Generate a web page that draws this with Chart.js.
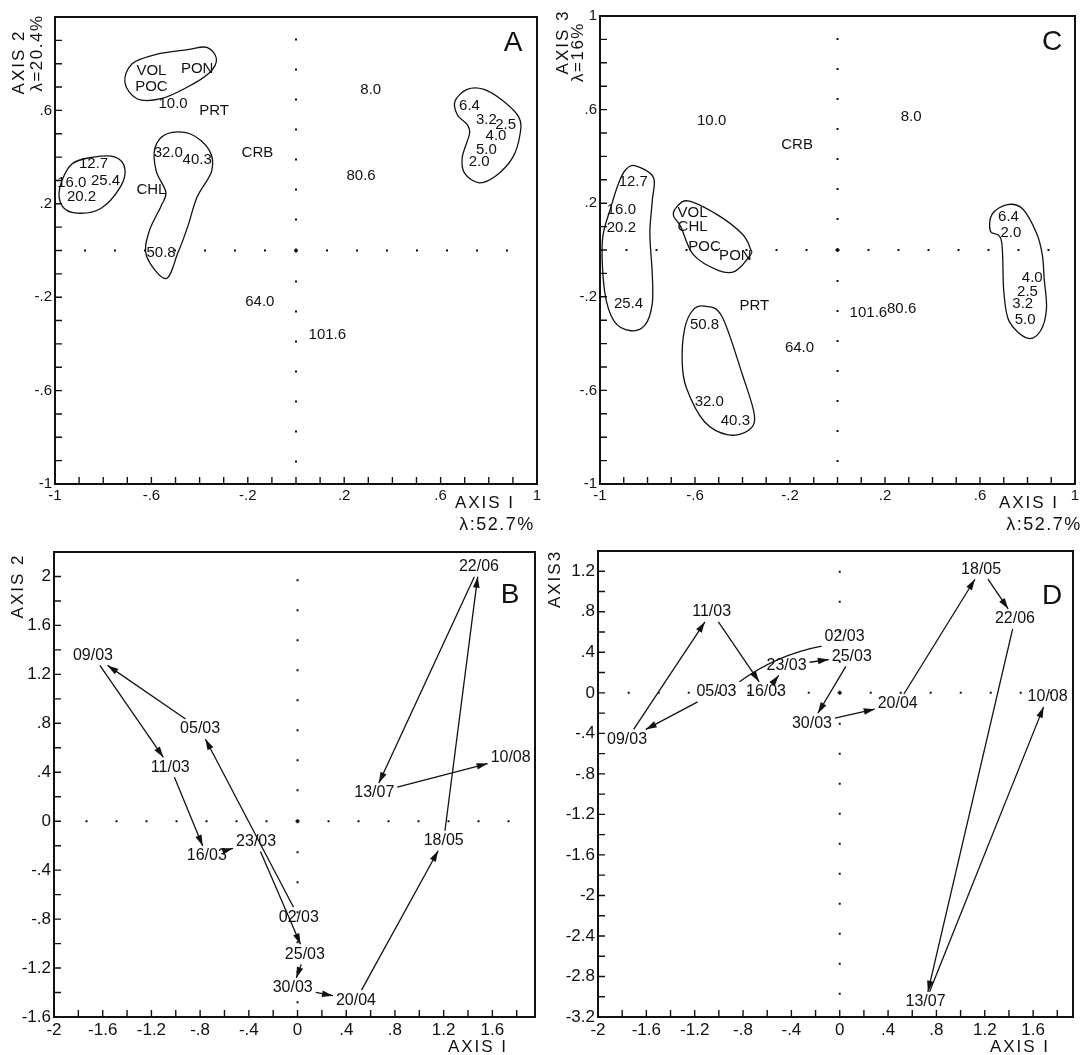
<!DOCTYPE html>
<html>
<head>
<meta charset="utf-8">
<script src="https://cdn.jsdelivr.net/npm/chart.js@4.4.0/dist/chart.umd.min.js"></script>
<style>
  html, body { margin: 0; padding: 0; background: #fff; }
  body { width: 1087px; height: 1055px; position: relative; overflow: hidden; }
  canvas { position: absolute; }
</style>
</head>
<body>
<canvas id="panelA"></canvas>
<canvas id="panelC"></canvas>
<canvas id="panelB"></canvas>
<canvas id="panelD"></canvas>
<script>
// ---- panel A : variables and size classes, axis 1 x axis 2
var aNames = ['VOL', 'POC', 'PON', '10.0', 'PRT', 'CRB', '32.0', '40.3', '12.7', '16.0', '25.4', '20.2',
              'CHL', '50.8', '8.0', '80.6', '6.4', '3.2', '2.5', '4.0', '5.0', '2.0', '64.0', '101.6'];
var aAxis1 = [-0.60, -0.60, -0.41, -0.51, -0.34, -0.16, -0.53, -0.41, -0.84, -0.93, -0.79, -0.89,
              -0.60, -0.56, 0.31, 0.27, 0.72, 0.79, 0.87, 0.83, 0.79, 0.76, -0.15, 0.13];
var aAxis2 = [0.77, 0.70, 0.78, 0.63, 0.60, 0.42, 0.42, 0.39, 0.37, 0.29, 0.30, 0.23,
              0.26, -0.01, 0.69, 0.32, 0.62, 0.56, 0.54, 0.49, 0.43, 0.38, -0.22, -0.36];
// hand drawn groupings in panel A
var aGroupPom = [[-0.71, 0.72], [-0.68, 0.80], [-0.58, 0.84], [-0.45, 0.86], [-0.37, 0.87], [-0.33, 0.82],
                 [-0.36, 0.76], [-0.45, 0.70], [-0.56, 0.65], [-0.66, 0.65]];
var aGroupMid = [[-0.98, 0.27], [-0.93, 0.37], [-0.84, 0.40], [-0.75, 0.40], [-0.71, 0.35], [-0.73, 0.27],
                 [-0.81, 0.18], [-0.91, 0.16], [-0.97, 0.19]];
var aGroupBig = [[-0.535, 0.50], [-0.44, 0.50], [-0.36, 0.43], [-0.35, 0.34], [-0.41, 0.23], [-0.45, 0.10],
                 [-0.49, -0.01], [-0.54, -0.12], [-0.62, -0.025], [-0.61, 0.08], [-0.56, 0.19], [-0.54, 0.25],
                 [-0.58, 0.34], [-0.585, 0.44]];
var aGroupSmall = [[0.66, 0.64], [0.71, 0.69], [0.78, 0.69], [0.86, 0.64], [0.925, 0.57], [0.93, 0.50],
                   [0.90, 0.40], [0.83, 0.32], [0.76, 0.29], [0.70, 0.33], [0.69, 0.40], [0.72, 0.50],
                   [0.71, 0.54], [0.67, 0.58]];

// ---- panel C : axis 1 x axis 3
var cNames = ['10.0', 'CRB', '12.7', '16.0', '20.2', 'VOL', 'CHL', 'POC', 'PON', '8.0', '6.4', '2.0',
              '4.0', '2.5', '3.2', '5.0', '25.4', 'PRT', '50.8', '101.6', '80.6', '64.0', '32.0', '40.3'];
var cAxis1 = [-0.53, -0.17, -0.86, -0.91, -0.91, -0.61, -0.61, -0.56, -0.43, 0.31, 0.72, 0.73,
              0.82, 0.80, 0.78, 0.79, -0.88, -0.35, -0.56, 0.13, 0.27, -0.16, -0.54, -0.43];
var cAxis3 = [0.55, 0.45, 0.29, 0.17, 0.095, 0.16, 0.10, 0.013, -0.026, 0.57, 0.14, 0.074,
              -0.12, -0.18, -0.23, -0.30, -0.23, -0.24, -0.32, -0.27, -0.25, -0.42, -0.65, -0.73];
var cGroupMid = [[-0.85, 0.36], [-0.775, 0.31], [-0.78, 0.21], [-0.79, 0.07], [-0.78, -0.10], [-0.78, -0.23],
                 [-0.81, -0.32], [-0.87, -0.345], [-0.94, -0.305], [-0.98, -0.18], [-0.99, 0.04],
                 [-0.955, 0.18], [-0.92, 0.29], [-0.89, 0.345]];
var cGroupPom = [[-0.68, 0.18], [-0.63, 0.21], [-0.505, 0.15], [-0.40, 0.067], [-0.366, 0.003], [-0.366, -0.02],
                 [-0.43, -0.09], [-0.50, -0.088], [-0.607, -0.02], [-0.66, 0.10], [-0.69, 0.145]];
var cGroupBig = [[-0.56, -0.24], [-0.487, -0.283], [-0.40, -0.534], [-0.35, -0.705], [-0.374, -0.77],
                 [-0.46, -0.79], [-0.56, -0.734], [-0.636, -0.59], [-0.654, -0.477], [-0.643, -0.334],
                 [-0.607, -0.255]];
var cGroupSmall = [[0.715, 0.194], [0.78, 0.175], [0.84, 0.067], [0.863, -0.026], [0.87, -0.12], [0.88, -0.25],
                   [0.855, -0.345], [0.80, -0.377], [0.723, -0.305], [0.70, -0.175], [0.69, 0.04],
                   [0.644, 0.08], [0.651, 0.153]];

// ---- panels B and D : sampling dates (in time order)
var dates = ['02/03', '05/03', '09/03', '11/03', '16/03', '23/03', '25/03', '30/03', '20/04', '18/05', '22/06', '13/07', '10/08'];
var bAxis1 = [0.01, -0.80, -1.68, -1.045, -0.745, -0.34, 0.06, -0.04, 0.48, 1.20, 1.49, 0.63, 1.75];
var bAxis2 = [-0.785, 0.754, 1.355, 0.44, -0.284, -0.166, -1.088, -1.363, -1.462, -0.16, 2.08, 0.23, 0.52];
var dAxis1 = [0.04, -1.02, -1.76, -1.06, -0.61, -0.44, 0.10, -0.23, 0.48, 1.17, 1.45, 0.71, 1.72];
var dAxis3 = [0.56, 0.01, -0.46, 0.80, 0.01, 0.27, 0.36, -0.30, -0.11, 1.22, 0.73, -3.05, -0.04];

// tick labels
var ticksAC = [-1, -0.6, -0.2, 0.2, 0.6, 1];
var ticksAy = [-1, -0.6, -0.2, 0.2, 0.6];
var ticksBx = [-2, -1.6, -1.2, -0.8, -0.4, 0, 0.4, 0.8, 1.2, 1.6];
var ticksBy = [-1.6, -1.2, -0.8, -0.4, 0, 0.4, 0.8, 1.2, 1.6, 2];
var ticksDy = [-3.2, -2.8, -2.4, -2, -1.6, -1.2, -0.8, -0.4, 0, 0.4, 0.8, 1.2];

var fam = '"Liberation Sans", Arial, sans-serif';
var ink = '#111';

function fmt(v) {
  var n = Math.round(v * 100) / 100;
  if (n === 0) return '0';
  var s = String(Math.abs(n));
  if (s.indexOf('0.') === 0) s = s.slice(1);
  return (n < 0 ? '-' : '') + s;
}
function pts(xs, ys) {
  return xs.map(function (x, i) { return { x: x, y: ys[i] }; });
}
function pairs(arr) {
  return arr.map(function (p) { return { x: p[0], y: p[1] }; });
}
function outline(g) {
  return { data: pairs(g), outline: true, pointRadius: 0 };
}

function minorTicks(scale, step) {
  var out = [];
  var k0 = Math.ceil(scale.min / step - 1e-6), k1 = Math.floor(scale.max / step + 1e-6);
  for (var k = k0; k <= k1; k++) {
    var v = k * step;
    if (Math.abs(v - scale.min) < 1e-6 || Math.abs(v - scale.max) < 1e-6) continue;
    out.push(scale.getPixelForValue(v));
  }
  return out;
}

function closedCurve(ctx, p) {
  var n = p.length;
  ctx.beginPath();
  ctx.moveTo(p[0].x, p[0].y);
  for (var i = 0; i < n; i++) {
    var p0 = p[(i - 1 + n) % n], p1 = p[i], p2 = p[(i + 1) % n], p3 = p[(i + 2) % n];
    ctx.bezierCurveTo(p1.x + (p2.x - p0.x) / 6, p1.y + (p2.y - p0.y) / 6,
                      p2.x - (p3.x - p1.x) / 6, p2.y - (p3.y - p1.y) / 6, p2.x, p2.y);
  }
  ctx.closePath();
  ctx.stroke();
}

function exitT(dx, dy, hw, hh) {
  var tx = dx !== 0 ? hw / Math.abs(dx) : Infinity;
  var ty = dy !== 0 ? hh / Math.abs(dy) : Infinity;
  return Math.min(tx, ty);
}

function arrowHead(ctx, e, dx, dy) {
  var l = Math.hypot(dx, dy), ux = dx / l, uy = dy / l;
  ctx.beginPath();
  ctx.moveTo(e.x, e.y);
  ctx.lineTo(e.x - ux * 11 - uy * 3.3, e.y - uy * 11 + ux * 3.3);
  ctx.lineTo(e.x - ux * 11 + uy * 3.3, e.y - uy * 11 - ux * 3.3);
  ctx.closePath();
  ctx.fill();
}

function drawArrows(ctx, p, ds) {
  ctx.font = ds.nameFont;
  var half = ds.names.map(function (n) { return ctx.measureText(n).width / 2 + 3; });
  ctx.lineWidth = 1.3;
  for (var i = 0; i < p.length - 1; i++) {
    var P = p[i], Q = p[i + 1];
    var dx = Q.x - P.x, dy = Q.y - P.y;
    var t0 = exitT(dx, dy, half[i], 10), t1 = 1 - exitT(dx, dy, half[i + 1], 10);
    if (t1 - t0 < 0.02) continue;
    var S = { x: P.x + dx * t0, y: P.y + dy * t0 }, E = { x: P.x + dx * t1, y: P.y + dy * t1 };
    var hx = dx, hy = dy;
    ctx.beginPath();
    ctx.moveTo(S.x, S.y);
    if (i === 0 && ds.firstBend) {
      var len = Math.hypot(E.x - S.x, E.y - S.y);
      var cx = (S.x + E.x) / 2 - (E.y - S.y) / len * ds.firstBend;
      var cy = (S.y + E.y) / 2 + (E.x - S.x) / len * ds.firstBend;
      ctx.quadraticCurveTo(cx, cy, E.x, E.y);
      hx = E.x - cx; hy = E.y - cy;
    } else {
      ctx.lineTo(E.x, E.y);
    }
    ctx.stroke();
    if (!(i === 0 && ds.firstNoHead)) arrowHead(ctx, E, hx, hy);
  }
}

function drawText(ctx, t) {
  ctx.save();
  ctx.translate(t.x, t.y);
  if (t.rot) ctx.rotate(t.rot);
  ctx.font = t.font;
  ctx.letterSpacing = t.sp || '0px';
  ctx.textAlign = t.align || 'center';
  ctx.textBaseline = 'middle';
  ctx.fillText(t.text, 0, 0);
  ctx.restore();
}

function makeDeco(cfg) {
  return {
    id: 'deco' + cfg.id,
    afterDatasetsDraw: function (chart) {
      var ctx = chart.ctx, a = chart.chartArea;
      var xs = chart.scales.x, ys = chart.scales.y;
      var x0 = xs.getPixelForValue(0), y0 = ys.getPixelForValue(0);
      ctx.save();
      ctx.strokeStyle = ink;
      ctx.fillStyle = ink;

      // dotted zero lines
      ctx.lineWidth = 2;
      ctx.setLineDash([2, 28]);
      [[x0, a.top + 4], [x0, a.bottom - 4], [a.left + 4, y0], [a.right - 4, y0]].forEach(function (e) {
        ctx.beginPath(); ctx.moveTo(x0, y0); ctx.lineTo(e[0], e[1]); ctx.stroke();
      });
      ctx.setLineDash([]);

      // frame and inward ticks
      ctx.lineWidth = 2;
      ctx.strokeRect(a.left, a.top, a.right - a.left, a.bottom - a.top);
      ctx.lineWidth = 1.4;
      ctx.beginPath();
      minorTicks(xs, cfg.xStep).forEach(function (px) { ctx.moveTo(px, a.bottom); ctx.lineTo(px, a.bottom - 7); });
      minorTicks(ys, cfg.yStep).forEach(function (py) { ctx.moveTo(a.left, py); ctx.lineTo(a.left + 7, py); });
      ctx.stroke();

      // outlines, labels, arrows
      chart.data.datasets.forEach(function (ds, i) {
        var p = chart.getDatasetMeta(i).data.map(function (e) { return { x: e.x, y: e.y }; });
        if (ds.outline) { ctx.lineWidth = 1.3; closedCurve(ctx, p); }
        if (ds.arrows) drawArrows(ctx, p, ds);
        if (ds.names) {
          ctx.font = ds.nameFont;
          ctx.textAlign = 'center';
          ctx.textBaseline = 'middle';
          p.forEach(function (q, j) { ctx.fillText(ds.names[j], q.x, q.y); });
        }
      });

      cfg.texts.forEach(function (t) { drawText(ctx, t); });
      ctx.restore();
    }
  };
}

function makePanel(cfg) {
  var cv = document.getElementById(cfg.id);
  var bx = cfg.box;
  cv.width = bx[2]; cv.height = bx[3];
  cv.style.left = bx[0] + 'px'; cv.style.top = bx[1] + 'px';
  cv.style.width = bx[2] + 'px'; cv.style.height = bx[3] + 'px';
  var L = cfg.area[0] - bx[0], T = cfg.area[1] - bx[1];
  var R = cfg.area[2] - bx[0], B = cfg.area[3] - bx[1];
  var xh = 20;
  var tf = { family: fam, size: cfg.tickSize };
  return new Chart(cv.getContext('2d'), {
    type: 'scatter',
    data: { datasets: cfg.datasets },
    options: {
      responsive: false,
      animation: false,
      events: [],
      layout: { padding: { left: 0, top: T, right: bx[2] - R, bottom: bx[3] - B - xh } },
      elements: { point: { radius: 0 } },
      plugins: { legend: { display: false }, tooltip: { enabled: false } },
      scales: {
        x: {
          type: 'linear', min: cfg.xMin, max: cfg.xMax,
          afterFit: function (s) { s.height = xh; },
          afterBuildTicks: function (s) { s.ticks = cfg.xTicks.map(function (v) { return { value: v }; }); },
          ticks: { autoSkip: false, maxRotation: 0, padding: 3, color: ink, font: tf, callback: fmt },
          grid: { display: false, drawTicks: false },
          border: { display: false }
        },
        y: {
          type: 'linear', min: cfg.yMin, max: cfg.yMax,
          afterFit: function (s) { s.width = L; },
          afterBuildTicks: function (s) { s.ticks = cfg.yTicks.map(function (v) { return { value: v }; }); },
          ticks: { autoSkip: false, padding: 3, color: ink, font: tf, callback: fmt },
          grid: { display: false, drawTicks: false },
          border: { display: false }
        }
      }
    },
    plugins: [makeDeco(cfg)]
  });
}

var rot = -Math.PI / 2;
var titleFont = '17px ' + fam;
var letterFont = '28px ' + fam;

// Panel A
makePanel({
  id: 'panelA', box: [0, 0, 545, 535], area: [55, 17, 537, 484],
  xMin: -1, xMax: 1, yMin: -1, yMax: 1, xStep: 0.1, yStep: 0.1,
  xTicks: ticksAC, yTicks: ticksAy, tickSize: 15,
  datasets: [
    { data: pts(aAxis1, aAxis2), names: aNames, nameFont: '15px ' + fam, pointRadius: 0 },
    outline(aGroupPom), outline(aGroupMid), outline(aGroupBig), outline(aGroupSmall)
  ],
  texts: [
    { text: 'A', x: 513, y: 43, font: letterFont },
    { text: 'AXIS I', x: 485, y: 503, font: titleFont, sp: '2px' },
    { text: 'λ:52.7%', x: 497, y: 525, font: '18px ' + fam, sp: '1.5px' },
    { text: 'AXIS 2', x: 19, y: 62, rot: rot, font: titleFont, sp: '2px' },
    { text: 'λ=20.4%', x: 37, y: 53, rot: rot, font: titleFont, sp: '1.5px' }
  ]
});

// Panel C
makePanel({
  id: 'panelC', box: [545, 0, 542, 535], area: [600, 16, 1075, 484],
  xMin: -1, xMax: 1, yMin: -1, yMax: 1, xStep: 0.1, yStep: 0.1,
  xTicks: ticksAC, yTicks: ticksAC, tickSize: 15,
  datasets: [
    { data: pts(cAxis1, cAxis3), names: cNames, nameFont: '15px ' + fam, pointRadius: 0 },
    outline(cGroupMid), outline(cGroupPom), outline(cGroupBig), outline(cGroupSmall)
  ],
  texts: [
    { text: 'C', x: 507, y: 42, font: letterFont },
    { text: 'AXIS I', x: 484, y: 503, font: titleFont, sp: '2px' },
    { text: 'λ:52.7%', x: 499, y: 525, font: '18px ' + fam, sp: '1.5px' },
    { text: 'AXIS 3', x: 18, y: 42, rot: rot, font: titleFont, sp: '2px' },
    { text: 'λ=16%', x: 33, y: 52, rot: rot, font: titleFont, sp: '1.5px' }
  ]
});

// Panel B
makePanel({
  id: 'panelB', box: [0, 535, 545, 520], area: [54, 552, 535, 1017],
  xMin: -2, xMax: 1.95, yMin: -1.6, yMax: 2.2, xStep: 0.2, yStep: 0.2,
  xTicks: ticksBx, yTicks: ticksBy, tickSize: 17,
  datasets: [
    { data: pts(bAxis1, bAxis2), names: dates, nameFont: '16px ' + fam, arrows: true, pointRadius: 0 }
  ],
  texts: [
    { text: 'B', x: 510, y: 60, font: letterFont },
    { text: 'AXIS I', x: 478, y: 512, font: titleFont, sp: '2px' },
    { text: 'AXIS 2', x: 18.5, y: 51, rot: rot, font: titleFont, sp: '2px' }
  ]
});

// Panel D
makePanel({
  id: 'panelD', box: [545, 535, 542, 520], area: [598, 551, 1073, 1017],
  xMin: -2, xMax: 1.93, yMin: -3.2, yMax: 1.4, xStep: 0.2, yStep: 0.2,
  xTicks: ticksBx, yTicks: ticksDy, tickSize: 17,
  datasets: [
    { data: pts(dAxis1, dAxis3), names: dates, nameFont: '16px ' + fam, arrows: true,
      firstBend: 10, firstNoHead: true, pointRadius: 0 }
  ],
  texts: [
    { text: 'D', x: 507, y: 61, font: letterFont },
    { text: 'AXIS I', x: 475, y: 512, font: titleFont, sp: '2px' },
    { text: 'AXIS3', x: 10, y: 44, rot: rot, font: titleFont, sp: '2px' }
  ]
});
</script>
</body>
</html>
